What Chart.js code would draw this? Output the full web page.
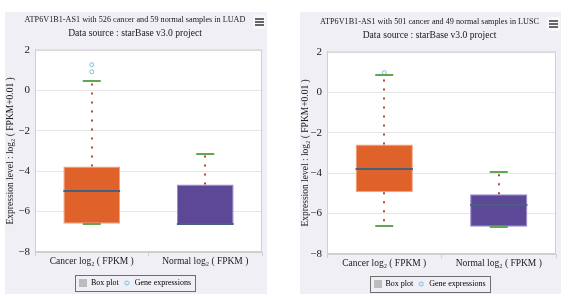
<!DOCTYPE html>
<html>
<head>
<meta charset="utf-8">
<script src="https://cdn.jsdelivr.net/npm/chart.js@4/dist/chart.umd.min.js"></script>
<style>
  body { margin: 0; background: #fff; width: 568px; height: 300px; position: relative; overflow: hidden; }
  .panel { position: absolute; background: #efeff5; overflow: hidden; }
  #p1 { left: 5px; top: 12px; width: 262px; height: 282px; }
  #p2 { left: 300px; top: 12px; width: 261px; height: 282px; }
  .panel canvas { position: absolute; left: 0; top: 0; }
  .menu { position: absolute; width: 13px; height: 14px; background: #f7f7fa; }
  .menu span { position: absolute; left: 2px; width: 9px; height: 2px; background: #666; }
</style>
</head>
<body>
<div class="panel" id="p1">
  <canvas id="c1" width="262" height="282"></canvas>
  <div class="menu" style="left:248px;top:3px"><span style="top:3px"></span><span style="top:6px"></span><span style="top:9px"></span></div>
</div>
<div class="panel" id="p2">
  <canvas id="c2" width="261" height="282"></canvas>
  <div class="menu" style="left:247px;top:5px"><span style="top:3px"></span><span style="top:6px"></span><span style="top:9px"></span></div>
</div>
<script>
const categories = ['Cancer log₂ ( FPKM )', 'Normal log₂ ( FPKM )'];
const subtitleText = 'Data source : starBase v3.0 project';
const yAxisTitle = 'Expression level : log₂ ( FPKM+0.01 )';

// LUAD
const luadTitle = 'ATP6V1B1-AS1 with 526 cancer and 59 normal samples in LUAD';
const luadMin = [-6.64, -6.64];
const luadQ1 = [-6.6, -6.64];
const luadMedian = [-4.96, -6.64];
const luadQ3 = [-3.77, -4.66];
const luadMax = [0.46, -3.13];
const luadOutliers = [[1.26, 0.91], []];

// LUSC
const luscTitle = 'ATP6V1B1-AS1 with 501 cancer and 49 normal samples in LUSC';
const luscMin = [-6.61, -6.65];
const luscQ1 = [-4.95, -6.65];
const luscMedian = [-3.81, -5.59];
const luscQ3 = [-2.58, -5.04];
const luscMax = [0.86, -3.94];
const luscOutliers = [[0.97], []];

const SERIF = '"Liberation Serif", "DejaVu Serif", serif';

// little legend symbols
function legendSquare() {
  const c = document.createElement('canvas');
  c.width = 8; c.height = 8;
  const g = c.getContext('2d');
  g.fillStyle = '#bcbcbc';
  g.fillRect(0, 0, 8, 8);
  return c;
}
function legendCircle() {
  const c = document.createElement('canvas');
  c.width = 6; c.height = 6;
  const g = c.getContext('2d');
  g.strokeStyle = '#79bde0';
  g.lineWidth = 1;
  g.beginPath();
  g.arc(3, 3, 2, 0, Math.PI * 2);
  g.stroke();
  return c;
}

const boxPlotParts = {
  id: 'boxPlotParts',
  beforeDraw(chart) {
    const a = chart.chartArea;
    chart.ctx.save();
    chart.ctx.fillStyle = '#fff';
    chart.ctx.fillRect(a.left, a.top, a.right - a.left, a.bottom - a.top);
    chart.ctx.restore();
  },
  beforeDatasetsDraw(chart, args, opts) {
    const ctx = chart.ctx, x = chart.scales.x, y = chart.scales.y;
    const a = chart.chartArea;
    ctx.save();
    ctx.strokeStyle = '#cfcfcf';
    ctx.lineWidth = 1;
    ctx.strokeRect(a.left + 0.5, a.top + 0.5, a.right - a.left - 1, a.bottom - a.top - 1);
    ctx.strokeStyle = '#b3473a';
    ctx.lineWidth = 2;
    ctx.setLineDash([2, 7]);
    categories.forEach((c, i) => {
      const px = Math.round(x.getPixelForValue(i));
      ctx.beginPath();
      ctx.moveTo(px, y.getPixelForValue(opts.q3[i]));
      ctx.lineTo(px, y.getPixelForValue(opts.max[i]));
      ctx.moveTo(px, y.getPixelForValue(opts.q1[i]));
      ctx.lineTo(px, y.getPixelForValue(opts.min[i]));
      ctx.stroke();
    });
    ctx.restore();
  },
  afterDatasetsDraw(chart, args, opts) {
    const ctx = chart.ctx, x = chart.scales.x, y = chart.scales.y;
    const bars = chart.getDatasetMeta(0).data;
    ctx.save();
    categories.forEach((c, i) => {
      const px = x.getPixelForValue(i);
      const half = bars[i].width / 2;
      ctx.lineWidth = 2;
      ctx.strokeStyle = '#5fa84f';
      [opts.max[i], opts.min[i]].forEach(v => {
        const py = Math.round(y.getPixelForValue(v));
        ctx.beginPath();
        ctx.moveTo(px - 9, py);
        ctx.lineTo(px + 9, py);
        ctx.stroke();
      });
      ctx.strokeStyle = '#45617f';
      const pm = Math.round(y.getPixelForValue(opts.median[i]));
      ctx.beginPath();
      ctx.moveTo(px - half, pm);
      ctx.lineTo(px + half, pm);
      ctx.stroke();
    });
    ctx.restore();
  },
  afterDraw(chart) {
    const boxes = chart.legend.legendHitBoxes;
    if (!boxes || !boxes.length) return;
    const first = boxes[0], last = boxes[boxes.length - 1];
    const ctx = chart.ctx;
    ctx.save();
    ctx.strokeStyle = '#6e6e6e';
    ctx.lineWidth = 1;
    ctx.strokeRect(Math.round(first.left - 4) + 0.5, Math.round(first.top - 4) + 0.5,
      Math.round(last.left + last.width + 4 - (first.left - 4)), Math.round(first.height + 8));
    ctx.restore();
  }
};

function buildChart(canvasId, title, stats, geo) {
  const ctx = document.getElementById(canvasId).getContext('2d');
  const points = [];
  stats.outliers.forEach((list, i) => list.forEach(v => points.push({ x: categories[i], y: v })));

  return new Chart(ctx, {
    type: 'bar',
    data: {
      labels: categories,
      datasets: [{
        label: 'Box plot',
        data: categories.map((c, i) => [stats.q1[i], stats.q3[i]]),
        backgroundColor: ['#e0622b', '#5d4898'],
        borderColor: ['#f3a07a', '#9688c8'],
        borderWidth: 1,
        borderSkipped: false,
        barPercentage: 0.5,
        categoryPercentage: 1
      }, {
        type: 'line',
        label: 'Gene expressions',
        data: points,
        showLine: false,
        pointRadius: 2,
        pointBorderWidth: 1,
        pointBorderColor: '#79bde0',
        pointBackgroundColor: '#ffffff'
      }]
    },
    options: {
      responsive: false,
      animation: false,
      layout: { padding: { left: 0, right: 2, top: 0, bottom: geo.padBottom } },
      plugins: {
        title: {
          display: true, text: title, color: '#1a1a1a',
          font: { family: SERIF, size: 8.2, weight: 'normal' },
          padding: { top: geo.titleTop, bottom: 0 }
        },
        subtitle: {
          display: true, text: subtitleText, color: '#1a1a1a',
          font: { family: SERIF, size: 9.6, weight: 'normal' },
          padding: { top: 3, bottom: 10.4 }
        },
        legend: {
          position: 'bottom',
          labels: {
            usePointStyle: true,
            color: '#222',
            padding: 4,
            font: { family: SERIF, size: 8 },
            generateLabels: () => [
              { text: 'Box plot', pointStyle: legendSquare(), hidden: false, datasetIndex: 0, lineWidth: 0 },
              { text: 'Gene expressions', pointStyle: legendCircle(), hidden: false, datasetIndex: 1, lineWidth: 0 }
            ]
          }
        },
        tooltip: { enabled: false },
        boxPlotParts: stats
      },
      scales: {
        x: {
          grid: { offset: true, drawOnChartArea: false, drawTicks: true, tickLength: 4, color: '#cfcfcf' },
          border: { color: '#cfcfcf' },
          ticks: { padding: 0, color: '#1a1a1a', maxRotation: 0, autoSkip: false, font: { family: SERIF, size: 9.5 } },
          afterFit: s => { s.height = 282 - geo.padBottom - s.chart.legend.height - geo.bottom; }
        },
        y: {
          min: -8, max: 2,
          grid: { color: '#e6e6e6', drawTicks: false },
          border: { color: '#cfcfcf' },
          ticks: {
            stepSize: 2, padding: 5, color: '#1a1a1a',
            font: { family: SERIF, size: 11 },
            callback: v => String(v).replace('-', '−')
          },
          title: {
            display: true, text: yAxisTitle, color: '#222', padding: 0,
            font: { family: SERIF, size: 9.5 }
          },
          afterFit: s => { s.width = geo.left; }
        }
      }
    },
    plugins: [boxPlotParts]
  });
}

buildChart('c1', luadTitle, {
  min: luadMin, q1: luadQ1, median: luadMedian, q3: luadQ3, max: luadMax, outliers: luadOutliers
}, { left: 30, bottom: 240, padBottom: -3, titleTop: 3 });

buildChart('c2', luscTitle, {
  min: luscMin, q1: luscQ1, median: luscMedian, q3: luscQ3, max: luscMax, outliers: luscOutliers
}, { left: 27, bottom: 242, padBottom: -4, titleTop: 5 });
</script>
</body>
</html>
